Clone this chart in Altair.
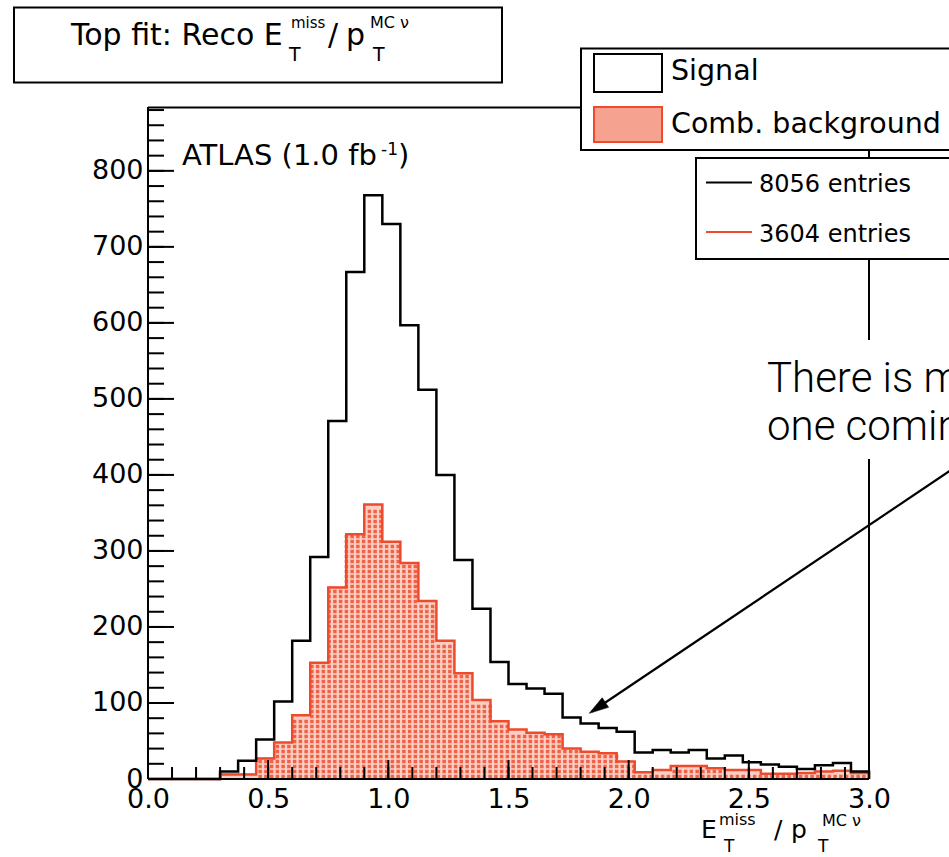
import math
import altair as alt
import pandas as pd

# ---------------- data ----------------
BIN_LOW = 0.0
BIN_WIDTH = 0.075
SIGNAL = [0, 0, 0, 0, 10, 24, 52, 102, 182, 292, 471, 667, 768, 730, 597, 512,
          400, 288, 224, 154, 125, 119, 112, 81, 73, 67, 62, 35, 38, 35, 38, 27,
          31, 22, 19, 16, 13, 18, 21, 10]
BACKGROUND = [0, 0, 0, 0, 6, 6, 27, 48, 84, 153, 252, 322, 361, 312, 284, 234,
              182, 139, 104, 76, 65, 61, 59, 40, 36, 34, 23, 9, 12, 17, 17, 14,
              12, 12, 7, 7, 8, 10, 11, 8]
Y_MAJOR = [0, 100, 200, 300, 400, 500, 600, 700, 800]
Y_MINOR = list(range(0, 881, 20))
X_MAJOR = [0.0, 0.5, 1.0, 1.5, 2.0, 2.5, 3.0]
X_MINOR = [round(0.1 * i, 1) for i in range(31)]
LEGEND_LABELS = ["Signal", "Comb. background"]
ENTRIES = ["8056 entries", "3604 entries"]

# ---------------- layout / style ----------------
L, T = 148, 107          # plot origin in page pixels
W, H = 721, 672          # plot area
X_MAX, Y_MAX = 3.0, 884
FONT = "DejaVu Sans"
RED = "#ee4a2c"
RED_BASE = "#fbcfc3"     # background of the dotted fill
RED_DOT = "#ef6247"      # dots of the fill pattern
RED_SWATCH = "#f5a390"
DOT_DX, DOT_DY = 5.75, 5.0   # pattern period in pixels

n = len(SIGNAL)
rows = []
for i in range(n):
    rows.append({"i": i, "x": BIN_LOW + i * BIN_WIDTH, "sig": SIGNAL[i], "bkg": BACKGROUND[i]})
rows.append({"i": n, "x": BIN_LOW + n * BIN_WIDTH, "sig": SIGNAL[-1], "bkg": BACKGROUND[-1]})
rows.append({"i": n + 1, "x": BIN_LOW + n * BIN_WIDTH, "sig": 0, "bkg": 0})
hist = pd.DataFrame(rows)

# dotted fill pattern under the background histogram (pattern cells inside each bin)
ppx = W / X_MAX
ppy = H / Y_MAX
dots = []
for i, v in enumerate(BACKGROUND):
    lo = (BIN_LOW + i * BIN_WIDTH) * ppx
    hi = (BIN_LOW + (i + 1) * BIN_WIDTH) * ppx
    top = v * ppy
    k = math.ceil((lo - DOT_DX / 2) / DOT_DX)
    while DOT_DX / 2 + k * DOT_DX < hi:
        cx = DOT_DX / 2 + k * DOT_DX
        j = 0
        while DOT_DY / 2 + j * DOT_DY <= top - 2.2:
            cy = DOT_DY / 2 + j * DOT_DY
            dots.append({"x": cx / ppx, "y": cy / ppy})
            j += 1
        k += 1
dots = pd.DataFrame(dots)

xs = alt.Scale(domain=[0, X_MAX], nice=False, zero=False)
ys = alt.Scale(domain=[0, Y_MAX], nice=False, zero=False)
one = pd.DataFrame({"k": [0]})


def px(x):
    return x - L


def py(y):
    return y - T


def rule(x1, y1, x2, y2, color="black", width=2):
    return alt.Chart(one).mark_rule(color=color, strokeWidth=width).encode(
        x=alt.value(px(x1)), y=alt.value(py(y1)), x2=alt.value(px(x2)), y2=alt.value(py(y2)))


def box(x1, y1, x2, y2, stroke="black", fill="white", sw=2):
    return alt.Chart(one).mark_rect(stroke=stroke, fill=fill, strokeWidth=sw).encode(
        x=alt.value(px(x1)), x2=alt.value(px(x2)), y=alt.value(py(y1)), y2=alt.value(py(y2)))


def text(s, x, y, size, font=FONT, weight="normal", align="left", color="black"):
    return alt.Chart(one).mark_text(text=s, fontSize=size, font=font, fontWeight=weight,
                                    align=align, baseline="alphabetic", color=color).encode(
        x=alt.value(px(x)), y=alt.value(py(y)))


base = alt.Chart(hist)
area = base.mark_area(interpolate="step-after", fill=RED_BASE, stroke=RED_BASE, strokeWidth=0.6).encode(
    x=alt.X("x:Q", scale=xs, axis=alt.Axis(values=X_MAJOR, format=".1f", ticks=False, domain=False,
                                           grid=False, labelFont=FONT, labelFontSize=27,
                                           labelColor="black", labelPadding=7, labelFlush=False,
                                           title=None)),
    y=alt.Y("bkg:Q", scale=ys, axis=alt.Axis(values=Y_MAJOR, ticks=False, domain=False, grid=False,
                                             labelFont=FONT, labelFontSize=27, labelColor="black",
                                             labelPadding=5, title=None)),
    order="i:Q")
dot_layer = alt.Chart(dots).mark_point(shape="square", filled=True, size=12, color=RED_DOT,
                                       opacity=1, strokeWidth=0).encode(
    x=alt.X("x:Q", scale=xs), y=alt.Y("y:Q", scale=ys))
red_line = base.mark_line(interpolate="step-after", color=RED, strokeWidth=2.5).encode(
    x=alt.X("x:Q", scale=xs), y=alt.Y("bkg:Q", scale=ys), order="i:Q")
black_line = base.mark_line(interpolate="step-after", color="black", strokeWidth=2.5).encode(
    x=alt.X("x:Q", scale=xs), y=alt.Y("sig:Q", scale=ys), order="i:Q")

ymaj = alt.Chart(pd.DataFrame({"v": Y_MAJOR})).mark_rule(color="black", strokeWidth=2).encode(
    y=alt.Y("v:Q", scale=ys), x=alt.value(0), x2=alt.value(26))
ymin = alt.Chart(pd.DataFrame({"v": Y_MINOR})).mark_rule(color="black", strokeWidth=2).encode(
    y=alt.Y("v:Q", scale=ys), x=alt.value(0), x2=alt.value(16))
xmaj = alt.Chart(pd.DataFrame({"v": X_MAJOR})).mark_rule(color="black", strokeWidth=2).encode(
    x=alt.X("v:Q", scale=xs), y=alt.value(H), y2=alt.value(H - 19))
xmin = alt.Chart(pd.DataFrame({"v": X_MINOR})).mark_rule(color="black", strokeWidth=2).encode(
    x=alt.X("v:Q", scale=xs), y=alt.value(H), y2=alt.value(H - 12))

frame = [
    rule(148, 107, 148, 779),
    rule(148, 779, 869, 779),
    rule(148, 107.5, 869, 107.5),
    rule(869, 107, 869, 779),
]

# title box
title = [
    box(14, 7.5, 502, 82.5),
    text("Top fit: Reco E", 71, 45, 30),
    text("T", 289, 61, 19),
    text("miss", 291, 28, 15),
    text("/", 328, 45, 30),
    text("p", 346, 45, 30),
    text("T", 373, 61, 19),
    text("MC \u03bd", 370, 28, 16),
]

# legend 1
leg1 = [
    box(581, 48.5, 990, 150),
    box(594, 54, 662, 92, stroke="black", fill="white"),
    box(594, 107, 662, 142, stroke=RED, fill=RED_SWATCH),
    text(LEGEND_LABELS[0], 671, 80, 28.5),
    text(LEGEND_LABELS[1], 671, 133, 28.5),
]
# legend 2
leg2 = [
    box(696, 158, 990, 259),
    rule(706, 182.5, 752, 182.5, color="black", width=2),
    rule(706, 232, 752, 232, color=RED, width=2),
    text(ENTRIES[0], 759, 192, 24),
    text(ENTRIES[1], 759, 242, 24),
]

atlas = [
    text("ATLAS (1.0 fb", 182, 165, 29),
    text("-1", 381, 155, 17),
    text(")", 398, 165, 29),
]

xtitle = [
    text("E", 701, 838, 25),
    text("miss", 719, 825, 16),
    text("T", 724, 852, 17),
    text("/", 774, 838, 25),
    text("p", 791, 838, 25),
    text("T", 818, 852, 17),
    text("MC \u03bd", 822, 826, 16),
]

note = [
    box(755, 340, 990, 459, stroke="white", fill="white", sw=0),
    text("There is more", 767, 392, 42, font="Roboto", weight=300),
    text("one coming", 767, 440, 42, font="Roboto", weight=300),
]

arrow_line = rule(960, 464, 592, 711.5, color="black", width=2.2)
arrow_head = alt.Chart(one).mark_point(shape="M0,0L-0.3,1L0.3,1Z", filled=True, fill="black",
                                       stroke="black", strokeWidth=0.5, opacity=1, size=1500,
                                       angle=236.1).encode(
    x=alt.value(px(589.3)), y=alt.value(py(713.3)))

layers = [area, dot_layer, red_line, black_line, ymaj, ymin, xmaj, xmin] + frame + title + leg1 \
    + leg2 + atlas + xtitle + note + [arrow_line, arrow_head]

chart = alt.layer(*layers).properties(
    width=W, height=H,
    autosize=alt.AutoSizeParams(type="none"),
    padding={"left": L, "top": T, "right": 949 - L - W, "bottom": 857 - T - H},
    background="white",
).configure_view(stroke=None)

chart.save("out.html", embed_options={"renderer": "svg", "actions": False})
